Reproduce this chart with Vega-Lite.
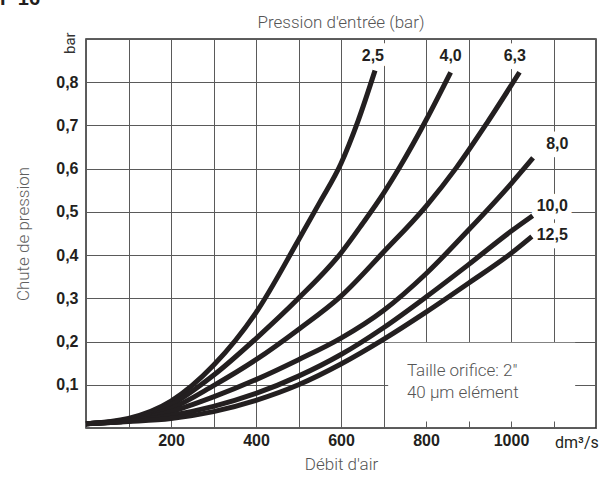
{
  "$schema": "https://vega.github.io/schema/vega-lite/v6.json",
  "width": 510,
  "height": 389,
  "autosize": {"type": "none"},
  "padding": {"left": 86, "top": 39, "right": 15, "bottom": 50},
  "background": "white",
  "config": {
    "view": {"stroke": "#2a2a2a", "strokeWidth": 1.5},
    "font": "Liberation Sans"
  },
  "datasets": {
    "curves": [
      {"p": "2,5", "x": 0, "y": 0.01}, {"p": "2,5", "x": 100, "y": 0.022}, {"p": "2,5", "x": 200, "y": 0.062},
      {"p": "2,5", "x": 300, "y": 0.145}, {"p": "2,5", "x": 400, "y": 0.267}, {"p": "2,5", "x": 500, "y": 0.435},
      {"p": "2,5", "x": 550, "y": 0.522}, {"p": "2,5", "x": 600, "y": 0.612}, {"p": "2,5", "x": 640, "y": 0.71},
      {"p": "2,5", "x": 680, "y": 0.827},
      {"p": "4,0", "x": 0, "y": 0.01}, {"p": "4,0", "x": 100, "y": 0.02}, {"p": "4,0", "x": 200, "y": 0.054},
      {"p": "4,0", "x": 300, "y": 0.122}, {"p": "4,0", "x": 400, "y": 0.207}, {"p": "4,0", "x": 500, "y": 0.3},
      {"p": "4,0", "x": 600, "y": 0.405}, {"p": "4,0", "x": 650, "y": 0.472}, {"p": "4,0", "x": 700, "y": 0.543},
      {"p": "4,0", "x": 739, "y": 0.605}, {"p": "4,0", "x": 800, "y": 0.712}, {"p": "4,0", "x": 858, "y": 0.823},
      {"p": "6,3", "x": 0, "y": 0.01}, {"p": "6,3", "x": 100, "y": 0.018}, {"p": "6,3", "x": 200, "y": 0.045},
      {"p": "6,3", "x": 300, "y": 0.098}, {"p": "6,3", "x": 400, "y": 0.158}, {"p": "6,3", "x": 500, "y": 0.228},
      {"p": "6,3", "x": 600, "y": 0.305}, {"p": "6,3", "x": 700, "y": 0.407}, {"p": "6,3", "x": 800, "y": 0.513},
      {"p": "6,3", "x": 872, "y": 0.603}, {"p": "6,3", "x": 943, "y": 0.705}, {"p": "6,3", "x": 1020, "y": 0.823},
      {"p": "8,0", "x": 0, "y": 0.01}, {"p": "8,0", "x": 100, "y": 0.017}, {"p": "8,0", "x": 200, "y": 0.038},
      {"p": "8,0", "x": 300, "y": 0.072}, {"p": "8,0", "x": 400, "y": 0.112}, {"p": "8,0", "x": 500, "y": 0.158},
      {"p": "8,0", "x": 600, "y": 0.208}, {"p": "8,0", "x": 700, "y": 0.272}, {"p": "8,0", "x": 800, "y": 0.357},
      {"p": "8,0", "x": 900, "y": 0.458}, {"p": "8,0", "x": 1000, "y": 0.565}, {"p": "8,0", "x": 1052, "y": 0.625},
      {"p": "10,0", "x": 0, "y": 0.01}, {"p": "10,0", "x": 100, "y": 0.016}, {"p": "10,0", "x": 200, "y": 0.029},
      {"p": "10,0", "x": 300, "y": 0.05}, {"p": "10,0", "x": 400, "y": 0.08}, {"p": "10,0", "x": 500, "y": 0.12},
      {"p": "10,0", "x": 600, "y": 0.17}, {"p": "10,0", "x": 700, "y": 0.232}, {"p": "10,0", "x": 800, "y": 0.303},
      {"p": "10,0", "x": 900, "y": 0.378}, {"p": "10,0", "x": 1000, "y": 0.455}, {"p": "10,0", "x": 1051, "y": 0.491},
      {"p": "12,5", "x": 0, "y": 0.01}, {"p": "12,5", "x": 100, "y": 0.015}, {"p": "12,5", "x": 200, "y": 0.022},
      {"p": "12,5", "x": 300, "y": 0.038}, {"p": "12,5", "x": 400, "y": 0.064}, {"p": "12,5", "x": 500, "y": 0.1},
      {"p": "12,5", "x": 600, "y": 0.148}, {"p": "12,5", "x": 700, "y": 0.205}, {"p": "12,5", "x": 800, "y": 0.268},
      {"p": "12,5", "x": 900, "y": 0.335}, {"p": "12,5", "x": 1000, "y": 0.404}, {"p": "12,5", "x": 1049, "y": 0.443}
    ],
    "labels": [
      {"p": "2,5", "x": 675, "y": 0.861},
      {"p": "4,0", "x": 858, "y": 0.861},
      {"p": "6,3", "x": 1009, "y": 0.861},
      {"p": "8,0", "x": 1109, "y": 0.657},
      {"p": "10,0", "x": 1097, "y": 0.514},
      {"p": "12,5", "x": 1097, "y": 0.447}
    ]
  },
  "layer": [
    {
      "data": {"name": "curves"},
      "mark": {"type": "line", "opacity": 0},
      "encoding": {
        "x": {
          "field": "x",
          "type": "quantitative",
          "title": "Débit d'air",
          "scale": {"domain": [0, 1200], "nice": false},
          "axis": {
            "values": [0, 100, 200, 300, 400, 500, 600, 700, 800, 900, 1000, 1100, 1200],
            "format": "d",
            "grid": true,
            "gridColor": "#5a5a5a",
            "gridWidth": 1,
            "ticks": false,
            "domain": false,
            "labelOverlap": false,
            "labelExpr": "datum.value > 0 && datum.value < 1100 && datum.value % 200 == 0 ? datum.label : ''",
            "labelFont": "Liberation Sans",
            "labelFontWeight": "bold",
            "labelFontSize": 16,
            "labelColor": "#231f20",
            "labelPadding": 4,
            "titleFont": "Roboto",
            "titleFontWeight": 300,
            "titleFontSize": 17,
            "titleColor": "#555555",
            "titlePadding": 8
          }
        },
        "y": {
          "field": "y",
          "type": "quantitative",
          "title": "Chute de pression",
          "scale": {"domain": [0, 0.9], "nice": false},
          "axis": {
            "values": [0, 0.1, 0.2, 0.3, 0.4, 0.5, 0.6, 0.7, 0.8, 0.9],
            "grid": true,
            "gridColor": "#5a5a5a",
            "gridWidth": 1,
            "ticks": false,
            "domain": false,
            "labelOverlap": false,
            "labelExpr": "datum.value > 0.05 && datum.value < 0.85 ? replace(format(datum.value, '.1f'), '.', ',') : ''",
            "labelFont": "Liberation Sans",
            "labelFontWeight": "bold",
            "labelFontSize": 16,
            "labelColor": "#231f20",
            "labelPadding": 8,
            "titleFont": "Roboto",
            "titleFontWeight": 300,
            "titleFontSize": 17,
            "titleColor": "#5f5f5f",
            "titlePadding": 23
          }
        },
        "detail": {"field": "p"}
      }
    },
    {
      "data": {"values": [{"t": "box"}]},
      "mark": {"type": "rect", "color": "white"},
      "encoding": {
        "x": {"datum": 711, "type": "quantitative", "title": "Débit d'air"},
        "x2": {"datum": 1151},
        "y": {"datum": 0.015, "type": "quantitative", "title": "Chute de pression"},
        "y2": {"datum": 0.197}
      }
    },
    {
      "data": {"name": "labels"},
      "mark": {"type": "text", "font": "Liberation Sans", "fontWeight": "bold", "fontSize": 16, "fill": "white", "stroke": "white", "strokeWidth": 12, "strokeJoin": "round", "baseline": "middle", "align": "center"},
      "encoding": {
        "x": {"field": "x", "type": "quantitative", "title": "Débit d'air"},
        "y": {"field": "y", "type": "quantitative", "title": "Chute de pression"},
        "text": {"field": "p"}
      }
    },
    {
      "data": {"name": "curves"},
      "mark": {"type": "line", "color": "#231f20", "strokeWidth": 5, "interpolate": "monotone", "strokeCap": "butt"},
      "encoding": {
        "x": {"field": "x", "type": "quantitative", "title": "Débit d'air"},
        "y": {"field": "y", "type": "quantitative", "title": "Chute de pression"},
        "detail": {"field": "p"}
      }
    },
    {
      "data": {"name": "labels"},
      "mark": {"type": "text", "font": "Liberation Sans", "fontWeight": "bold", "fontSize": 16, "color": "#231f20", "baseline": "middle", "align": "center"},
      "encoding": {
        "x": {"field": "x", "type": "quantitative", "title": "Débit d'air"},
        "y": {"field": "y", "type": "quantitative", "title": "Chute de pression"},
        "text": {"field": "p"}
      }
    },
    {
      "data": {"values": [{"t": "note"}]},
      "mark": {"type": "text", "font": "Roboto", "fontWeight": 300, "fontSize": 17, "color": "#555555", "align": "left", "baseline": "alphabetic", "lineHeight": 22},
      "encoding": {
        "x": {"datum": 755, "type": "quantitative", "title": "Débit d'air"},
        "y": {"datum": 0.12, "type": "quantitative", "title": "Chute de pression"},
        "text": {"value": ["Taille orifice: 2″", "40 µm elément"]}
      }
    },
    {
      "data": {"values": [{"t": "Pression d'entrée (bar)"}]},
      "mark": {"type": "text", "font": "Roboto", "fontWeight": 300, "fontSize": 17, "color": "#555555", "align": "center", "baseline": "middle", "dy": -16},
      "encoding": {
        "x": {"datum": 600, "type": "quantitative", "title": "Débit d'air"},
        "y": {"datum": 0.9, "type": "quantitative", "title": "Chute de pression"},
        "text": {"field": "t"}
      }
    },
    {
      "data": {"values": [{"t": "bar"}]},
      "mark": {"type": "text", "font": "Roboto", "fontSize": 15, "color": "#333333", "align": "left", "baseline": "alphabetic", "angle": 270, "dx": -15, "dy": -11},
      "encoding": {
        "x": {"datum": 0, "type": "quantitative", "title": "Débit d'air"},
        "y": {"datum": 0.9, "type": "quantitative", "title": "Chute de pression"},
        "text": {"field": "t"}
      }
    },
    {
      "data": {"values": [{"t": "dm³/s"}]},
      "mark": {"type": "text", "font": "Roboto", "fontSize": 16, "color": "#231f20", "align": "center", "baseline": "alphabetic", "dy": 20},
      "encoding": {
        "x": {"datum": 1155, "type": "quantitative", "title": "Débit d'air"},
        "y": {"datum": 0, "type": "quantitative", "title": "Chute de pression"},
        "text": {"field": "t"}
      }
    },
    {
      "data": {"values": [{"t": "F 16"}]},
      "mark": {"type": "text", "font": "Liberation Sans", "fontWeight": "bold", "fontSize": 20, "color": "#231f20", "align": "left", "baseline": "alphabetic", "dx": -86, "dy": -34},
      "encoding": {
        "x": {"datum": 0, "type": "quantitative", "title": "Débit d'air"},
        "y": {"datum": 0.9, "type": "quantitative", "title": "Chute de pression"},
        "text": {"field": "t"}
      }
    }
  ]
}
